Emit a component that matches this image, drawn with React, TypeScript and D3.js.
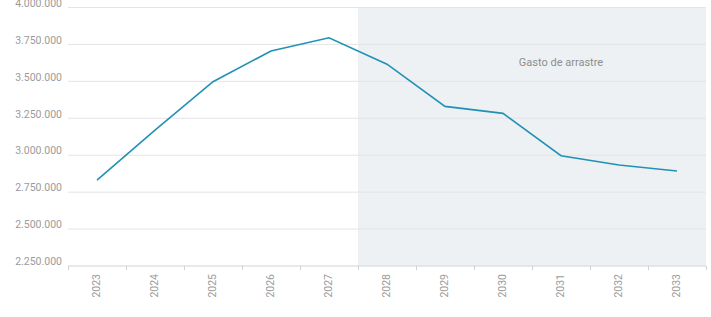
import * as d3 from "d3";
import { useEffect, useRef } from "react";

// años y gasto proyectado
const years = ["2023", "2024", "2025", "2026", "2027", "2028", "2029", "2030", "2031", "2032", "2033"];
const gasto = [2828000, 3167000, 3494000, 3702000, 3792000, 3613000, 3327000, 3280000, 2993000, 2930000, 2890000];
const yTicks = [2250000, 2500000, 2750000, 3000000, 3250000, 3500000, 3750000, 4000000];
const shadeFrom = "2028";
const shadeLabel = "Gasto de arrastre";
const labelYear = "2031";
const labelValue = 3620000;

const width = 711;
const height = 317;

const fmt = (v: number) => d3.format(",")(v).replace(/,/g, ".");

export default function App() {
  const svgRef = useRef<SVGSVGElement | null>(null);

  useEffect(() => {
    if (!svgRef.current) return;
    const margin = { top: 7, right: 5, bottom: 51.5, left: 68 };
    const innerW = width - margin.left - margin.right;
    const innerH = height - margin.top - margin.bottom;

    const svg = d3.select(svgRef.current);
    svg.selectAll("*").remove();

    const x = d3.scaleBand().domain(years).range([0, innerW]).padding(0);
    const y = d3.scaleLinear().domain([2250000, 4000000]).range([innerH, 0]);

    const g = svg.append("g").attr("transform", `translate(${margin.left},${margin.top})`);

    // zona sombreada de proyección
    const sx = x(shadeFrom)!;
    g.append("rect")
      .attr("x", sx)
      .attr("y", 0)
      .attr("width", innerW - sx)
      .attr("height", innerH)
      .attr("fill", "#edf1f4");

    // rejilla horizontal
    g.selectAll(".grid")
      .data(yTicks.slice(1))
      .enter()
      .append("line")
      .attr("x1", 0)
      .attr("x2", innerW)
      .attr("y1", (d) => y(d) + 0.5)
      .attr("y2", (d) => y(d) + 0.5)
      .attr("stroke", "#e2e4e6")
      .attr("stroke-width", 1);

    // etiquetas eje Y
    g.selectAll(".ylab")
      .data(yTicks)
      .enter()
      .append("text")
      .attr("x", -6)
      .attr("y", (d) => y(d) - 3)
      .attr("text-anchor", "end")
      .attr("dominant-baseline", "middle")
      .attr("font-family", "Roboto, sans-serif")
      .attr("font-size", "10.5px")
      .attr("fill", "#9b9b9b")
      .text((d) => fmt(d));

    // eje X
    const xAxis = g.append("g").attr("transform", `translate(0,${innerH + 0.5})`);
    xAxis.append("line").attr("x1", 0).attr("x2", innerW).attr("stroke", "#cfd2d4");
    xAxis
      .selectAll(".tick")
      .data(years.concat(["end"]))
      .enter()
      .append("line")
      .attr("x1", (d) => (d === "end" ? innerW : x(d)!) + 0.5)
      .attr("x2", (d) => (d === "end" ? innerW : x(d)!) + 0.5)
      .attr("y1", 0)
      .attr("y2", 4)
      .attr("stroke", "#cfd2d4");
    xAxis
      .selectAll(".xlab")
      .data(years)
      .enter()
      .append("text")
      .attr(
        "transform",
        (d) => `translate(${x(d)! + x.bandwidth() / 2},8) rotate(-90)`
      )
      .attr("text-anchor", "end")
      .attr("dominant-baseline", "middle")
      .attr("font-family", "Roboto, sans-serif")
      .attr("font-size", "10.5px")
      .attr("fill", "#9b9b9b")
      .text((d) => d);

    // rótulo de la zona
    g.append("text")
      .attr("x", x(labelYear)! + x.bandwidth() / 2)
      .attr("y", y(labelValue))
      .attr("text-anchor", "middle")
      .attr("dominant-baseline", "middle")
      .attr("font-family", "Roboto, sans-serif")
      .attr("font-size", "11px")
      .attr("fill", "#8e8e8e")
      .text(shadeLabel);

    // línea de gasto
    const line = d3
      .line<number>()
      .x((_, i) => x(years[i])! + x.bandwidth() / 2)
      .y((d) => y(d));
    g.append("path")
      .datum(gasto)
      .attr("fill", "none")
      .attr("stroke", "#2191b5")
      .attr("stroke-width", 1.6)
      .attr("d", line);
  }, []);

  return (
    <svg
      ref={svgRef}
      width={width}
      height={height}
      style={{ position: "absolute", left: 0, top: 0, background: "#fff" }}
    />
  );
}
